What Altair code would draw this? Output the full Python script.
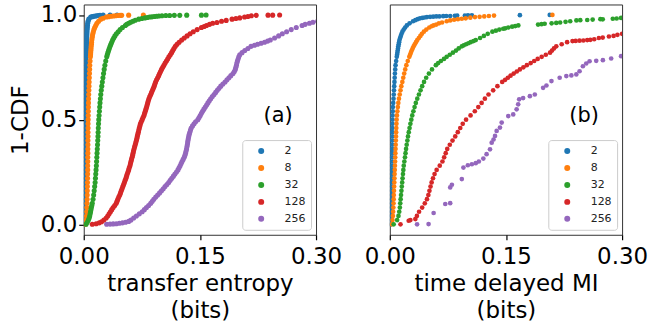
import altair as alt
import pandas as pd

# Series (history length) and their colours
SERIES = ["2", "8", "32", "128", "256"]
COLORS = ["#1f77b4", "#ff7f0e", "#2ca02c", "#d62728", "#9467bd"]

# CDF levels at which the sorted values are listed
LEVELS = [
    0.00, 0.02, 0.04, 0.06, 0.08, 0.10, 0.12, 0.14, 0.16, 0.18,
    0.20, 0.22, 0.24, 0.26, 0.28, 0.30, 0.32, 0.34, 0.36, 0.38,
    0.40, 0.42, 0.44, 0.46, 0.48, 0.50, 0.52, 0.54, 0.56, 0.58,
    0.60, 0.62, 0.64, 0.66, 0.68, 0.70, 0.72, 0.74, 0.76, 0.78,
    0.80, 0.81, 0.82, 0.83, 0.84, 0.85, 0.86, 0.87, 0.88, 0.89,
    0.90, 0.91, 0.92, 0.93, 0.94, 0.95, 0.96, 0.97, 0.98, 0.99, 1.00,
]

# (a) transfer entropy (bits), value at each CDF level
TE_X = {
    "2": [
        0.0010, 0.0015, 0.0019, 0.0021, 0.0022, 0.0024, 0.0025, 0.0026, 0.0027, 0.0027,
        0.0028, 0.0028, 0.0029, 0.0029, 0.0029, 0.0030, 0.0030, 0.0030, 0.0030, 0.0031,
        0.0031, 0.0031, 0.0031, 0.0032, 0.0032, 0.0032, 0.0032, 0.0033, 0.0033, 0.0033,
        0.0033, 0.0034, 0.0034, 0.0034, 0.0034, 0.0035, 0.0035, 0.0035, 0.0035, 0.0036,
        0.0036, 0.0036, 0.0036, 0.0037, 0.0037, 0.0037, 0.0038, 0.0038, 0.0039, 0.0039,
        0.0040, 0.0041, 0.0042, 0.0044, 0.0046, 0.0048, 0.0051, 0.0056, 0.0065, 0.0090, 0.0430,
    ],
    "8": [
        0.0020, 0.0030, 0.0035, 0.0038, 0.0040, 0.0042, 0.0044, 0.0045, 0.0046, 0.0047,
        0.0048, 0.0049, 0.0050, 0.0051, 0.0051, 0.0052, 0.0052, 0.0053, 0.0053, 0.0054,
        0.0054, 0.0055, 0.0055, 0.0056, 0.0056, 0.0057, 0.0058, 0.0059, 0.0060, 0.0061,
        0.0062, 0.0064, 0.0066, 0.0068, 0.0070, 0.0072, 0.0074, 0.0076, 0.0078, 0.0082,
        0.0086, 0.0088, 0.0090, 0.0092, 0.0094, 0.0096, 0.0099, 0.0101, 0.0104, 0.0108,
        0.0112, 0.0117, 0.0124, 0.0132, 0.0142, 0.0155, 0.0170, 0.0192, 0.0220, 0.0290, 0.0770,
    ],
    "32": [
        0.0030, 0.0060, 0.0077, 0.0088, 0.0098, 0.0110, 0.0120, 0.0128, 0.0135, 0.0141,
        0.0147, 0.0151, 0.0155, 0.0159, 0.0163, 0.0166, 0.0169, 0.0172, 0.0175, 0.0178,
        0.0181, 0.0184, 0.0186, 0.0188, 0.0191, 0.0194, 0.0198, 0.0202, 0.0206, 0.0210,
        0.0215, 0.0220, 0.0226, 0.0233, 0.0240, 0.0248, 0.0256, 0.0264, 0.0273, 0.0284,
        0.0297, 0.0304, 0.0312, 0.0321, 0.0330, 0.0340, 0.0350, 0.0361, 0.0373, 0.0387,
        0.0403, 0.0422, 0.0445, 0.0470, 0.0500, 0.0537, 0.0580, 0.0635, 0.0710, 0.0850, 0.1580,
    ],
    "128": [
        0.0110, 0.0260, 0.0310, 0.0345, 0.0380, 0.0420, 0.0440, 0.0465, 0.0485, 0.0505,
        0.0525, 0.0545, 0.0562, 0.0580, 0.0597, 0.0610, 0.0625, 0.0637, 0.0650, 0.0665,
        0.0680, 0.0692, 0.0705, 0.0718, 0.0732, 0.0755, 0.0778, 0.0795, 0.0812, 0.0826,
        0.0842, 0.0865, 0.0888, 0.0910, 0.0928, 0.0955, 0.0980, 0.1005, 0.1035, 0.1068,
        0.1100, 0.1118, 0.1135, 0.1150, 0.1165, 0.1183, 0.1205, 0.1232, 0.1265, 0.1298,
        0.1335, 0.1373, 0.1415, 0.1465, 0.1520, 0.1585, 0.1665, 0.1780, 0.1915, 0.2077, 0.2530,
    ],
    "256": [
        0.0296, 0.0610, 0.0680, 0.0755, 0.0810, 0.0865, 0.0905, 0.0955, 0.1004, 0.1050,
        0.1097, 0.1137, 0.1178, 0.1217, 0.1245, 0.1270, 0.1298, 0.1315, 0.1328, 0.1338,
        0.1346, 0.1356, 0.1370, 0.1388, 0.1425, 0.1474, 0.1505, 0.1535, 0.1570, 0.1604,
        0.1640, 0.1683, 0.1725, 0.1770, 0.1825, 0.1875, 0.1928, 0.1958, 0.1972, 0.1985,
        0.2003, 0.2015, 0.2045, 0.2080, 0.2120, 0.2160, 0.2245, 0.2335, 0.2410, 0.2465,
        0.2517, 0.2565, 0.2620, 0.2680, 0.2745, 0.2820, 0.2915, 0.3020, 0.3200, 0.3500, 0.4000,
    ],
}

# (a) additional (value, CDF) samples: sparse tails and in-between levels
TE_EXTRA = {
    "2": [(0.011, 0.992), (0.013, 0.994), (0.015, 0.995), (0.017, 0.996), (0.019, 0.997),
          (0.021, 0.998), (0.025, 0.999), (0.034, 0.999)],
    "8": [(0.025, 0.984), (0.032, 0.992), (0.035, 0.994), (0.038, 0.995), (0.041, 0.996),
          (0.044, 0.997), (0.047, 0.998), (0.049, 0.998), (0.058, 0.999)],
    "32": [(0.0045, 0.010), (0.0070, 0.030), (0.0083, 0.050), (0.0093, 0.070), (0.0104, 0.090),
           (0.0555, 0.955), (0.0605, 0.965), (0.0665, 0.975), (0.075, 0.983), (0.079, 0.986),
           (0.082, 0.988), (0.088, 0.991), (0.091, 0.993), (0.094, 0.994), (0.097, 0.995),
           (0.101, 0.996), (0.106, 0.997), (0.111, 0.997), (0.117, 0.998), (0.124, 0.998),
           (0.133, 0.999), (0.152, 0.999)],
    "128": [(0.016, 0.003), (0.020, 0.007), (0.023, 0.012), (0.0290, 0.030), (0.0328, 0.050),
            (0.0362, 0.070), (0.0400, 0.090), (0.0430, 0.110), (0.0452, 0.130), (0.0475, 0.150),
            (0.0495, 0.170), (0.0515, 0.190), (0.0535, 0.210), (0.0553, 0.230), (0.0571, 0.250),
            (0.0588, 0.270), (0.0604, 0.290), (0.0617, 0.310), (0.0631, 0.330), (0.0643, 0.350),
            (0.0657, 0.370), (0.0672, 0.390), (0.0686, 0.410), (0.0698, 0.430), (0.0711, 0.450),
            (0.0725, 0.470), (0.0743, 0.490), (0.0766, 0.510), (0.0786, 0.530), (0.0803, 0.550),
            (0.0819, 0.570), (0.0834, 0.590), (0.0853, 0.610), (0.0876, 0.630), (0.0899, 0.650),
            (0.0919, 0.670), (0.0941, 0.690), (0.0968, 0.710), (0.0992, 0.730), (0.1020, 0.750),
            (0.1051, 0.770), (0.1084, 0.790),
            (0.1555, 0.945), (0.1625, 0.955),
            (0.172, 0.964), (0.184, 0.974), (0.1965, 0.983), (0.2015, 0.986), (0.212, 0.993),
            (0.2165, 0.996), (0.2227, 0.998), (0.238, 0.999), (0.244, 0.999)],
    "256": [(0.034, 0.001), (0.038, 0.002), (0.042, 0.003), (0.046, 0.005), (0.050, 0.007),
            (0.054, 0.010), (0.058, 0.014), (0.0645, 0.030), (0.0718, 0.050), (0.0783, 0.070),
            (0.0838, 0.090), (0.0885, 0.110), (0.0930, 0.130), (0.0980, 0.150), (0.1027, 0.170),
            (0.1074, 0.190), (0.1117, 0.210), (0.1158, 0.230), (0.1198, 0.250), (0.1231, 0.270),
            (0.1258, 0.290), (0.1284, 0.310), (0.1307, 0.330), (0.1322, 0.350), (0.1333, 0.370),
            (0.1342, 0.390), (0.1351, 0.410), (0.1363, 0.430), (0.1379, 0.450), (0.1405, 0.470),
            (0.1445, 0.490), (0.1490, 0.510), (0.1520, 0.530), (0.1552, 0.550), (0.1587, 0.570),
            (0.1622, 0.590), (0.1661, 0.610), (0.1704, 0.630), (0.1747, 0.650), (0.1797, 0.670),
            (0.1850, 0.690), (0.1900, 0.710), (0.1945, 0.730), (0.1965, 0.750), (0.1978, 0.770),
            (0.1994, 0.790), (0.2205, 0.855),
            (0.229, 0.865), (0.2375, 0.875), (0.286, 0.955), (0.296, 0.965)],
}

# (b) time delayed mutual information (bits), value at each CDF level
MI_X = {
    "2": [
        0.0015, 0.0020, 0.0021, 0.0022, 0.0023, 0.0024, 0.0024, 0.0025, 0.0025, 0.0026,
        0.0026, 0.0027, 0.0027, 0.0028, 0.0028, 0.0029, 0.0029, 0.0030, 0.0030, 0.0031,
        0.0031, 0.0032, 0.0032, 0.0033, 0.0034, 0.0035, 0.0036, 0.0038, 0.0040, 0.0044,
        0.0048, 0.0051, 0.0054, 0.0057, 0.0060, 0.0063, 0.0066, 0.0070, 0.0074, 0.0082,
        0.0090, 0.0094, 0.0098, 0.0102, 0.0106, 0.0110, 0.0115, 0.0120, 0.0125, 0.0133,
        0.0142, 0.0152, 0.0163, 0.0180, 0.0198, 0.0220, 0.0255, 0.0300, 0.0360, 0.0480, 0.2066,
    ],
    "8": [
        0.0025, 0.0035, 0.0040, 0.0043, 0.0046, 0.0048, 0.0050, 0.0052, 0.0054, 0.0056,
        0.0058, 0.0060, 0.0062, 0.0064, 0.0066, 0.0068, 0.0070, 0.0072, 0.0074, 0.0076,
        0.0078, 0.0080, 0.0082, 0.0084, 0.0086, 0.0088, 0.0092, 0.0098, 0.0104, 0.0110,
        0.0118, 0.0128, 0.0138, 0.0149, 0.0162, 0.0174, 0.0186, 0.0199, 0.0214, 0.0232,
        0.0252, 0.0262, 0.0272, 0.0283, 0.0295, 0.0308, 0.0322, 0.0338, 0.0355, 0.0375,
        0.0395, 0.0415, 0.0440, 0.0472, 0.0510, 0.0565, 0.0635, 0.0735, 0.0880, 0.1100, 0.2100,
    ],
    "32": [
        0.0050, 0.0095, 0.0112, 0.0122, 0.0130, 0.0135, 0.0140, 0.0145, 0.0150, 0.0155,
        0.0160, 0.0165, 0.0170, 0.0175, 0.0180, 0.0188, 0.0196, 0.0203, 0.0210, 0.0218,
        0.0227, 0.0235, 0.0245, 0.0255, 0.0266, 0.0278, 0.0290, 0.0305, 0.0320, 0.0336,
        0.0355, 0.0376, 0.0397, 0.0418, 0.0442, 0.0470, 0.0505, 0.0545, 0.0595, 0.0660,
        0.0735, 0.0775, 0.0815, 0.0855, 0.0890, 0.0930, 0.0985, 0.1045, 0.1110, 0.1166,
        0.1215, 0.1265, 0.1325, 0.1415, 0.1530, 0.1660, 0.2090, 0.2330, 0.2720, 0.3200, 0.3600,
    ],
    "128": [
        0.0138, 0.0266, 0.0350, 0.0378, 0.0418, 0.0452, 0.0480, 0.0498, 0.0512, 0.0526,
        0.0540, 0.0558, 0.0578, 0.0605, 0.0645, 0.0680, 0.0702, 0.0722, 0.0742, 0.0775,
        0.0810, 0.0845, 0.0878, 0.0910, 0.0942, 0.0985, 0.1043, 0.1098, 0.1143, 0.1186,
        0.1228, 0.1275, 0.1335, 0.1390, 0.1452, 0.1525, 0.1600, 0.1680, 0.1770, 0.1865,
        0.1962, 0.2015, 0.2070, 0.2095, 0.2120, 0.2150, 0.2220, 0.2290, 0.2550, 0.2700,
        0.2890, 0.3000,
    ],
    "256": [],
}

# (b) additional (value, CDF) samples
MI_EXTRA = {
    "2": [(0.033, 0.975), (0.039, 0.984), (0.042, 0.986), (0.045, 0.988), (0.052, 0.991),
          (0.056, 0.992), (0.060, 0.993), (0.064, 0.993), (0.069, 0.994), (0.073, 0.995),
          (0.078, 0.995), (0.084, 0.996), (0.087, 0.997), (0.097, 0.997), (0.101, 0.998),
          (0.106, 0.998), (0.168, 0.999)],
    "8": [(0.054, 0.946), (0.060, 0.954), (0.0675, 0.964), (0.078, 0.974), (0.083, 0.977),
          (0.093, 0.982), (0.098, 0.984), (0.104, 0.987), (0.116, 0.991), (0.122, 0.993),
          (0.128, 0.995), (0.1346, 0.997)],
    "32": [(0.0625, 0.770), (0.0700, 0.790), (0.0955, 0.855), (0.1015, 0.865), (0.1080, 0.875),
           (0.1370, 0.925), (0.1465, 0.934), (0.1490, 0.936), (0.1580, 0.944), (0.1620, 0.947),
           (0.1915, 0.954), (0.1960, 0.956), (0.2000, 0.958), (0.2150, 0.962), (0.2200, 0.964),
           (0.2270, 0.967), (0.2410, 0.974), (0.2460, 0.975), (0.2550, 0.976), (0.2620, 0.978),
           (0.2750, 0.979), (0.2880, 0.982), (0.2930, 0.983), (0.2987, 0.986)],
    "128": [(0.0244, 0.017), (0.0330, 0.025), (0.1490, 0.690), (0.1560, 0.710), (0.1640, 0.730),
            (0.1725, 0.750), (0.1820, 0.770), (0.1910, 0.790), (0.2360, 0.875), (0.2400, 0.876),
            (0.2450, 0.877), (0.2500, 0.878), (0.2590, 0.881), (0.2640, 0.884), (0.2750, 0.892),
            (0.2830, 0.897), (0.2940, 0.905)],
    "256": [(0.0352, 0.000), (0.0501, 0.001), (0.0566, 0.054), (0.0716, 0.097), (0.0780, 0.101),
            (0.0780, 0.176), (0.0802, 0.189), (0.0930, 0.216), (0.0951, 0.271), (0.1008, 0.282),
            (0.1060, 0.287), (0.1110, 0.292), (0.1150, 0.300), (0.1208, 0.314), (0.1250, 0.335),
            (0.1294, 0.358), (0.1316, 0.390), (0.1340, 0.405), (0.1359, 0.422), (0.1380, 0.446),
            (0.1423, 0.462), (0.1445, 0.486), (0.1530, 0.517), (0.1594, 0.525), (0.1638, 0.549),
            (0.1658, 0.573), (0.1671, 0.597), (0.1722, 0.603), (0.1809, 0.612), (0.1873, 0.620),
            (0.1980, 0.652), (0.2023, 0.663), (0.2088, 0.684), (0.2194, 0.700), (0.2280, 0.708),
            (0.2345, 0.711), (0.2409, 0.716), (0.2451, 0.731), (0.2494, 0.755), (0.2537, 0.768),
            (0.2580, 0.779), (0.2666, 0.781), (0.2752, 0.784), (0.2859, 0.792), (0.2987, 0.803)],
}

FONT = "DejaVu Sans"


def build_frame(xs_by_series, extra_by_series):
    rows = []
    for order, name in enumerate(SERIES):
        for level, value in zip(LEVELS, xs_by_series[name]):
            rows.append({"series": name, "order": order, "x": value, "y": level})
        for value, level in extra_by_series[name]:
            rows.append({"series": name, "order": order, "x": value, "y": level})
    return pd.DataFrame(rows)


def panel(df, x_title, tag, show_y, dot_size):
    x_enc = alt.X(
        "x:Q",
        scale=alt.Scale(domain=[0, 0.3], nice=False, zero=False),
        axis=alt.Axis(values=[0, 0.15, 0.3], format=".2f", title=x_title,
                      labelFlush=False, labelOverlap=False),
    )
    if show_y:
        y_axis = alt.Axis(values=[0, 0.5, 1.0], format=".1f", title="1-CDF", titlePadding=8)
    else:
        y_axis = None
    y_enc = alt.Y("y:Q", scale=alt.Scale(domain=[-0.05, 1.05], nice=False, zero=False), axis=y_axis)

    points = alt.Chart(df).mark_circle(size=dot_size, opacity=1, clip=True).encode(
        x=x_enc,
        y=y_enc,
        color=alt.Color(
            "series:N",
            scale=alt.Scale(domain=SERIES, range=COLORS),
            sort=SERIES,
            legend=alt.Legend(
                orient="bottom-right", title=None, offset=5, padding=5.5,
                fillColor="white", strokeColor="#cccccc", cornerRadius=3,
                symbolType="circle", symbolSize=36, symbolStrokeWidth=0,
                symbolOffset=8, labelOffset=18, labelFontSize=11, labelFont=FONT,
                labelColor="#222222", rowPadding=5, symbolOpacity=1,
            ),
        ),
        order=alt.Order("order:Q"),
    )

    label = alt.Chart(pd.DataFrame({"x": [0.251], "y": [0.516], "t": [tag]})).mark_text(
        font=FONT, fontSize=21, align="center", baseline="middle", color="black"
    ).encode(x=x_enc, y=y_enc, text="t:N")

    return alt.layer(points, label).properties(width=233, height=231)


left = panel(build_frame(TE_X, TE_EXTRA), ["transfer entropy", "(bits)"], "(a)", True, 26)
right = panel(build_frame(MI_X, MI_EXTRA), ["time delayed MI", "(bits)"], "(b)", False, 22)

chart = (
    alt.hconcat(left, right, spacing=74, bounds="flush")
    .resolve_scale(color="independent")
    .properties(padding={"left": 8, "top": 3, "right": 0, "bottom": 0}, background="white")
    .configure_view(stroke="#333333", strokeWidth=1)
    .configure_axis(
        labelFont=FONT, titleFont=FONT, labelFontSize=23, titleFontSize=23,
        titleFontWeight="normal", labelColor="black", titleColor="black",
        tickColor="black", tickSize=5, tickWidth=1.2, domain=False, grid=False,
        labelPadding=2,
    )
    .configure_axisX(labelPadding=6, titlePadding=4, titleLineHeight=27)
)

chart.save("out.html", embed_options={"renderer": "svg", "actions": False})
